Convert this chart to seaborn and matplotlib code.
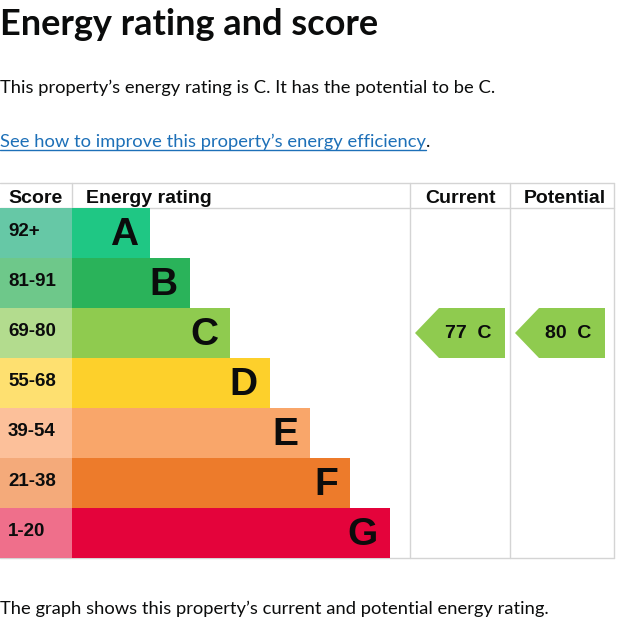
import matplotlib
matplotlib.use("Agg")
import matplotlib.pyplot as plt
from matplotlib.patches import Polygon
import seaborn as sns

sns.set_theme(style="white")
plt.rcParams['font.family'] = ['Lato', 'DejaVu Sans']

# chart data
bands = ["A", "B", "C", "D", "E", "F", "G"]
score_ranges = ["92+", "81-91", "69-80", "55-68", "39-54", "21-38", "1-20"]
band_floor = [92, 81, 69, 55, 39, 21, 1]
band_length = [78, 118, 158, 198, 238, 278, 318]
bar_colors = ["#1fc784", "#2ab35a", "#8fcb4f", "#fdd02b", "#f9a66a", "#ed7b2b", "#e4033b"]
score_colors = ["#66c8a6", "#6ec88a", "#b3dc8e", "#fee070", "#fcc09a", "#f4aa7a", "#ef6f8b"]
current_score = 77
potential_score = 80

W, H = 621, 632
ink = "#0b0c0c"
rule = "#d4d4d4"
link_blue = "#1d70b8"
arial = ["Liberation Sans", "DejaVu Sans"]
score_col = 72

fig = plt.figure(figsize=(W / 100, H / 100), dpi=100)

# page layer in pixel coordinates
page = fig.add_axes([0, 0, 1, 1])
page.set_xlim(0, W)
page.set_ylim(H, 0)
page.axis("off")

page.text(0, 35, "Energy rating and score", fontsize=26, fontweight="bold",
          color=ink, va="baseline", ha="left")
page.text(0, 93, "This property\u2019s energy rating is C. It has the potential to be C.",
          fontsize=13.2, color=ink, va="baseline", ha="left")
link = page.text(0, 147, "See how to improve this property\u2019s energy efficiency",
                 fontsize=13.2, color=link_blue, va="baseline", ha="left")
page.text(0, 614, "The graph shows this property\u2019s current and potential energy rating.",
          fontsize=13.2, color=ink, va="baseline", ha="left")

# underline and full stop after the link
renderer = fig.canvas.get_renderer()
bb = link.get_window_extent(renderer)
link_end = bb.x1 * W / fig.bbox.width
page.plot([0, link_end], [150, 150], color=link_blue, lw=1)
page.text(link_end, 147, ".", fontsize=13.2, color=ink, va="baseline", ha="left")

# table rules
for y in (183, 208, 558):
    page.plot([0, 614], [y, y], color=rule, lw=1)
page.plot([score_col, score_col], [183, 208], color=rule, lw=1)
for x in (410, 510, 614):
    page.plot([x, x], [183, 558], color=rule, lw=1)

# header
hdr = dict(fontsize=14, fontweight="bold", color=ink, va="baseline", family=arial)
page.text(8, 203, "Score", ha="left", **hdr)
page.text(86, 203, "Energy rating", ha="left", **hdr)
page.text(460, 203, "Current", ha="center", **hdr)
page.text(565, 203, "Potential", ha="center", **hdr)

# rating bands
ax = fig.add_axes([0, 1 - 558 / H, 1, 350 / H])
ax.patch.set_alpha(0)
sns.barplot(x=[score_col + l for l in band_length], y=bands, hue=bands,
            palette=bar_colors, saturation=1, width=1, linewidth=0,
            legend=False, orient="h", ax=ax)
sns.barplot(x=[score_col] * len(bands), y=bands, hue=bands,
            palette=score_colors, saturation=1, width=1, linewidth=0,
            legend=False, orient="h", ax=ax)
ax.set_xlim(0, W)
ax.set_ylim(len(bands) - 0.5, -0.5)
ax.axis("off")

for i, (b, s, l) in enumerate(zip(bands, score_ranges, band_length)):
    ax.text(8, i - 0.02, s, fontsize=13.5, fontweight="bold", color=ink,
            ha="left", va="center", family=arial)
    ax.text(score_col + l - 12, i + 0.04, b, fontsize=28, fontweight="bold",
            color=ink, ha="right", va="center", family=arial)


def band_index(score):
    for i, f in enumerate(band_floor):
        if score >= f:
            return i
    return len(bands) - 1


def arrow(score, x0, x1):
    r = band_index(score)
    pts = [(x0, r), (x0 + 24, r - 0.5), (x1, r - 0.5), (x1, r + 0.5), (x0 + 24, r + 0.5)]
    ax.add_patch(Polygon(pts, closed=True, facecolor=bar_colors[r], edgecolor="none"))
    ax.text((x0 + 24 + x1) / 2 - 4, r, f"{score}  {bands[r]}", fontsize=14,
            fontweight="bold", color=ink, ha="center", va="center", family=arial)


arrow(current_score, 415, 505)
arrow(potential_score, 515, 605)

fig.savefig("out.png", dpi=100)
